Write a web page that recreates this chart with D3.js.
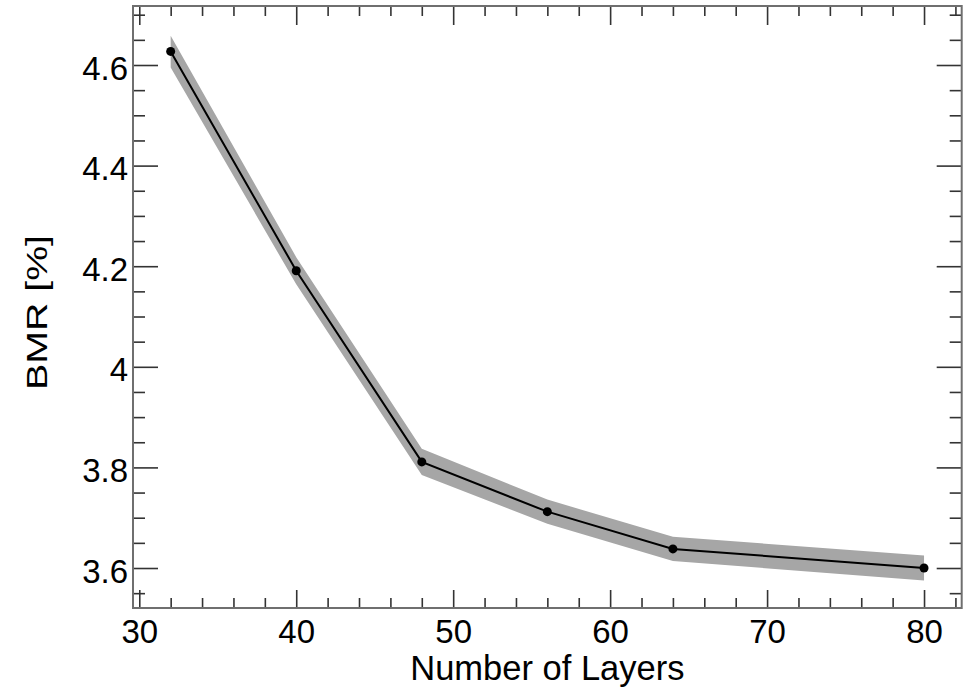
<!DOCTYPE html>
<html><head><meta charset="utf-8">
<script src="https://cdn.jsdelivr.net/npm/d3@7"></script>
<style>
body{margin:0;background:#fff;}
svg{display:block;}
text{font-family:"Liberation Sans",Arial,Helvetica,sans-serif;fill:#000;}
</style></head>
<body>
<svg id="chart" width="968" height="693"></svg>
<script>
const layers = [32, 40, 48, 56, 64, 80];
const bmr = [4.627, 4.191, 3.811, 3.712, 3.638, 3.600];
const bmrUpper = [4.658, 4.218, 3.837, 3.736, 3.662, 3.625];
const bmrLower = [4.595, 4.164, 3.785, 3.688, 3.614, 3.575];
const xMajorTicks = [30, 40, 50, 60, 70, 80];
const yMajorTicks = [3.6, 3.8, 4.0, 4.2, 4.4, 4.6];
const yTickLabels = ["3.6", "3.8", "4", "4.2", "4.4", "4.6"];
const xTitle = "Number of Layers";
const yTitle = "BMR [%]";

const L = 133, R = 961.7, T = 6, B = 608;
const svg = d3.select("#chart");
const x = d3.scaleLinear().domain([29.6, 82.4]).range([L, R]);
const y = d3.scaleLinear().domain([3.5205, 4.7173]).range([B, T]);

const data = layers.map((l, i) => ({x: l, y: bmr[i], hi: bmrUpper[i], lo: bmrLower[i]}));

// band
svg.append("path").datum(data)
  .attr("d", d3.area().x(d => x(d.x)).y0(d => y(d.lo)).y1(d => y(d.hi)))
  .attr("fill", "#a6a6a6");

// line
svg.append("path").datum(data)
  .attr("d", d3.line().x(d => x(d.x)).y(d => y(d.y)))
  .attr("fill", "none").attr("stroke", "#000").attr("stroke-width", 2);

svg.selectAll("circle.pt").data(data).enter().append("circle")
  .attr("class", "pt").attr("cx", d => x(d.x)).attr("cy", d => y(d.y))
  .attr("r", 4.5).attr("fill", "#000");

// ticks
const xMinor = d3.range(30, 83, 2).filter(v => v % 10 !== 0);
const yMinor = d3.range(3.55, 4.71, 0.05).map(v => +v.toFixed(2)).filter(v => !yMajorTicks.some(m => Math.abs(m - v) < 1e-6));

function styleAxis(g){
  g.select(".domain").remove();
  g.selectAll(".tick line").attr("stroke", "#333").attr("stroke-width", 1.6);
}
// bottom major (with labels)
svg.append("g").attr("transform", `translate(0,${B})`)
  .call(d3.axisBottom(x).tickValues(xMajorTicks).tickSize(-18).tickFormat(d3.format("d")))
  .call(styleAxis)
  .call(g => g.selectAll(".tick text").attr("y", 35).attr("dy", null)
    .style("font-size", "33px").style("font-family", '"Liberation Sans",Arial,sans-serif').attr("fill", "#000"));
svg.append("g").attr("transform", `translate(0,${B})`)
  .call(d3.axisBottom(x).tickValues(xMinor).tickSize(-10).tickFormat(""))
  .call(styleAxis);
// top
svg.append("g").attr("transform", `translate(0,${T})`)
  .call(d3.axisTop(x).tickValues(xMajorTicks).tickSize(-19).tickFormat(""))
  .call(styleAxis);
svg.append("g").attr("transform", `translate(0,${T})`)
  .call(d3.axisTop(x).tickValues(xMinor).tickSize(-10).tickFormat(""))
  .call(styleAxis);
// left
svg.append("g").attr("transform", `translate(${L},0)`)
  .call(d3.axisLeft(y).tickValues(yMajorTicks).tickSize(-25).tickFormat((d, i) => yTickLabels[i]))
  .call(styleAxis)
  .call(g => g.selectAll(".tick text").attr("x", -5).attr("dy", "14px").attr("text-anchor", "end")
    .style("font-size", "33px").style("font-family", '"Liberation Sans",Arial,sans-serif').attr("fill", "#000"));
svg.append("g").attr("transform", `translate(${L},0)`)
  .call(d3.axisLeft(y).tickValues(yMinor).tickSize(-12).tickFormat(""))
  .call(styleAxis);
// right
svg.append("g").attr("transform", `translate(${R},0)`)
  .call(d3.axisRight(y).tickValues(yMajorTicks).tickSize(-25).tickFormat(""))
  .call(styleAxis);
svg.append("g").attr("transform", `translate(${R},0)`)
  .call(d3.axisRight(y).tickValues(yMinor).tickSize(-12).tickFormat(""))
  .call(styleAxis);

// frame
svg.append("rect").attr("x", L).attr("y", T).attr("width", R - L).attr("height", B - T)
  .attr("fill", "none").attr("stroke", "#6f6f6f").attr("stroke-width", 2);

// titles
svg.append("text").attr("x", (L + R) / 2).attr("y", 680).attr("text-anchor", "middle")
  .style("font-size", "34.5px").text(xTitle);
svg.append("text").attr("transform", `translate(46.5,${312.5}) rotate(-90)`)
  .attr("text-anchor", "middle").style("font-size", "29px")
  .attr("textLength", 155).attr("lengthAdjust", "spacingAndGlyphs").text(yTitle);
</script>
</body></html>
